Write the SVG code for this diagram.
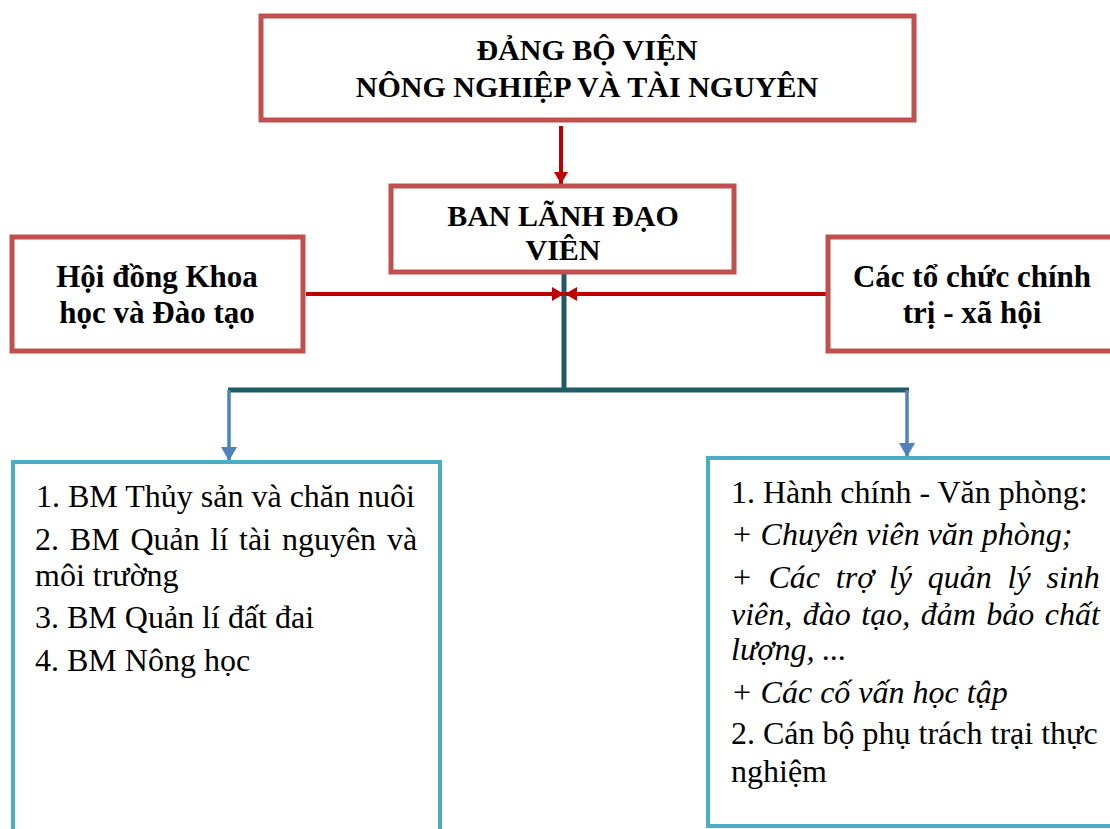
<svg xmlns="http://www.w3.org/2000/svg" width="1110" height="829" viewBox="0 0 1110 829">
<defs>
<style>
.rbox{fill:#fff;stroke:#c0504d;stroke-width:5}
.cbox{fill:#fff;stroke:#4bacc6;stroke-width:4}
.b{font-family:'Liberation Serif','DejaVu Serif',serif;font-weight:bold;font-size:30px;fill:#000;text-anchor:middle}
.s{font-size:31px}
.t{font-family:'Liberation Serif','DejaVu Serif',serif;font-size:32px;fill:#000}
.i{font-style:italic}
.red{stroke:#c00000;stroke-width:4;fill:none}
.teal{stroke:#215967;stroke-width:5;fill:none}
.blue{stroke:#4f81bd;stroke-width:3.5;fill:none}
</style>
<marker id="ar" markerUnits="userSpaceOnUse" viewBox="0 0 12 14" refX="12" refY="7" markerWidth="12" markerHeight="14" orient="auto"><path d="M0,0L12,7L0,14z" fill="#c00000"/></marker>
<marker id="ab" markerUnits="userSpaceOnUse" viewBox="0 0 14 16" refX="14" refY="8" markerWidth="14" markerHeight="16" orient="auto"><path d="M0,0L14,8L0,16z" fill="#4f81bd"/></marker>
</defs>

<g id="connectors">
<line class="red" x1="561" y1="126" x2="561" y2="184" marker-end="url(#ar)"/>
<line class="teal" x1="564" y1="274" x2="564" y2="390"/>
<line class="teal" x1="228" y1="390" x2="909" y2="390"/>
<line class="red" x1="306" y1="294" x2="564" y2="294" marker-end="url(#ar)"/>
<line class="red" x1="826" y1="294" x2="565" y2="294" marker-end="url(#ar)"/>
<line class="blue" x1="229" y1="390" x2="229" y2="461" marker-end="url(#ab)"/>
<line class="blue" x1="907" y1="390" x2="907" y2="457" marker-end="url(#ab)"/>
</g>

<g id="node-dang-bo">
<rect class="rbox" x="261" y="16" width="653" height="104"/>
<text class="b" x="587" y="60">ĐẢNG BỘ VIỆN</text>
<text class="b" x="587" y="97">NÔNG NGHIỆP VÀ TÀI NGUYÊN</text>
</g>

<g id="node-ban-lanh-dao">
<rect class="rbox" x="391" y="186" width="343" height="86"/>
<text class="b" x="563" y="226">BAN LÃNH ĐẠO</text>
<text class="b" x="563" y="260">VIÊN</text>
</g>

<g id="node-hoi-dong">
<rect class="rbox" x="12" y="237" width="291" height="114"/>
<text class="b s" x="157" y="287">Hội đồng Khoa</text>
<text class="b s" x="157" y="323">học và Đào tạo</text>
</g>

<g id="node-to-chuc">
<rect class="rbox" x="828" y="237" width="290" height="114"/>
<text class="b s" x="972" y="287">Các tổ chức chính</text>
<text class="b s" x="972" y="323">trị - xã hội</text>
</g>

<g id="node-bo-mon">
<rect class="cbox" x="13" y="462" width="427" height="380"/>
<text class="t" x="36" y="507">1. BM Thủy sản và chăn nuôi</text>
<text class="t" y="550"><tspan x="35">2.</tspan><tspan x="69.8">BM</tspan><tspan x="130.4">Quản</tspan><tspan x="210.5">lí</tspan><tspan x="239.1">tài</tspan><tspan x="281.9">nguyên</tspan><tspan x="386.9">và</tspan></text>
<text class="t" x="35" y="586">môi trường</text>
<text class="t" x="35" y="628">3. BM Quản lí đất đai</text>
<text class="t" x="35" y="671">4. BM Nông học</text>
</g>

<g id="node-hanh-chinh">
<rect class="cbox" x="708" y="458" width="420" height="368"/>
<text class="t" x="731" y="503">1. Hành chính - Văn phòng:</text>
<text class="t i" x="731" y="545">+ Chuyên viên văn phòng;</text>
<text class="t i" y="588"><tspan x="731">+</tspan><tspan x="768.4">Các</tspan><tspan x="835.8">trợ</tspan><tspan x="888.9">lý</tspan><tspan x="927.8">quản</tspan><tspan x="1007.6">lý</tspan><tspan x="1046.5">sinh</tspan></text>
<text class="t i" y="625"><tspan x="731">viên,</tspan><tspan x="802.8">đào</tspan><tspan x="861.3">tạo,</tspan><tspan x="920.7">đảm</tspan><tspan x="986.3">bảo</tspan><tspan x="1044.8">chất</tspan></text>
<text class="t i" x="731" y="660">lượng, ...</text>
<text class="t i" x="731" y="703">+ Các cố vấn học tập</text>
<text class="t" x="731" y="744">2. Cán bộ phụ trách trại thực</text>
<text class="t" x="731" y="782">nghiệm</text>
</g>
</svg>
